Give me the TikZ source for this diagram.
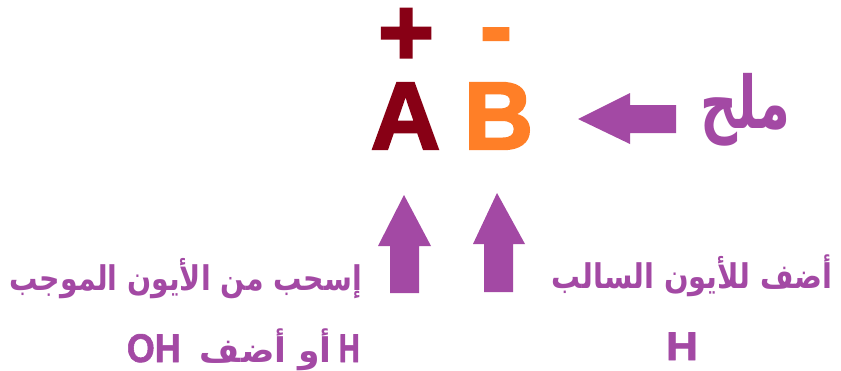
\documentclass[tikz,border=0pt]{standalone}
\usepackage{fontspec}
\setmainfont{Liberation Sans}
\newfontfamily\ionfont[RawFeature={embolden=2.5}]{Liberation Sans Bold}
\newfontfamily\latinfont[RawFeature={embolden=1.5}]{Liberation Sans Bold}
\newfontfamily\arabicfont[Script=Arabic]{DejaVu Sans}
\TeXXeTstate=1
\definecolor{ionred}{HTML}{880015}
\definecolor{ionorange}{HTML}{FF7F27}
\definecolor{hint}{HTML}{A349A4}
\tikzset{
  ion/.style={inner sep=0pt, anchor=base, font=\fontsize{96}{96}\ionfont},
  note/.style={inner sep=0pt, text=hint, font=\fontsize{34}{34}\selectfont\bfseries\arabicfont},
  latin/.style={inner sep=0pt, text=hint, font=\fontsize{40}{40}\latinfont},
  blockarrow/.style={fill=hint, draw=none}
}
\begin{document}
\begin{tikzpicture}[x=1pt,y=-1pt]
\useasboundingbox (0,0) rectangle (841,370);
\fill[white] (0,0) rectangle (841,370);
% ions
\node[ion, text=ionred] (A) at (405.5,149) {A};
\node[ion, text=ionorange] (B) at (498.5,149) {B};
\node[ion, text=ionred, text height=56pt, text depth=0pt] (plus) at (406,65) {+};
\node[ion, text=ionorange, text height=34pt, text depth=0pt] (minus) at (496,59) {-};
% salt
\node[note, anchor=base west, font=\fontsize{66}{66}\selectfont\bfseries\arabicfont] (salt) at (700,128) {\resizebox{90pt}{1.1\height}{\beginR ملح\endR}};
% arrows
\fill[blockarrow] (578,119) -- (630,93) -- (630,105) -- (676,105) -- (676,133) -- (630,133) -- (630,144) -- cycle;
\fill[blockarrow] (404,195) -- (431,246) -- (419,246) -- (419,293) -- (390,293) -- (390,246) -- (378,246) -- cycle;
\fill[blockarrow] (497,193) -- (525,244) -- (513,244) -- (513,292) -- (484,292) -- (484,244) -- (473,244) -- cycle;
% notes
\node[note, anchor=base east] (left1) at (362,290) {\resizebox{352pt}{\height}{\beginR إسحب من الأيون الموجب\endR}};
\node[latin, anchor=base east] (leftH) at (360,362) {\resizebox{21pt}{\height}{H}};
\node[note, anchor=base east] (leftmid) at (332,362) {\resizebox{132pt}{\height}{\beginR أو أضف\endR}};
\node[latin, anchor=base east] (leftOH) at (181,362) {\resizebox{54pt}{\height}{OH}};
\node[note, anchor=base east] (right1) at (833,288) {\resizebox{281pt}{\height}{\beginR أضف للأيون السالب\endR}};
\node[latin, anchor=base] (rightH) at (682,360) {\resizebox{32pt}{\height}{H}};
\end{tikzpicture}
\end{document}
